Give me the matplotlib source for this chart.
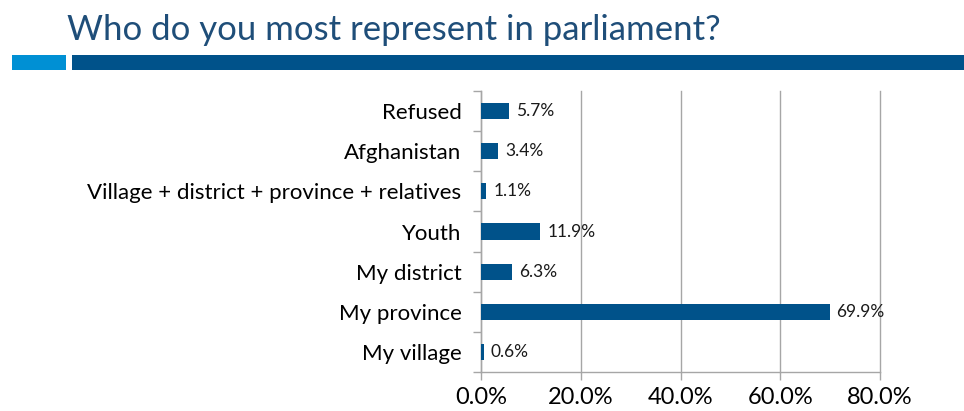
import matplotlib.pyplot as plt
from matplotlib.patches import Rectangle
import numpy as np

categories = ["My village", "My province", "My district", "Youth",
              "Village + district + province + relatives", "Afghanistan", "Refused"]
values = [0.6, 69.9, 6.3, 11.9, 1.1, 3.4, 5.7]
xticks = [0, 20, 40, 60, 80]

plt.rcParams['font.family'] = ['Lato', 'DejaVu Sans']

bar_color = "#00528A"
grid_color = "#A6A6A6"

fig = plt.figure(figsize=(9.64, 4.11), dpi=100)
ax = fig.add_axes([481 / 964, 1 - 372 / 411, 399 / 964, 281 / 411])

y = np.arange(len(categories))
ax.barh(y, values, height=0.4, color=bar_color, zorder=3)
for yi, v in zip(y, values):
    ax.text(v + 1.4, yi, f"{v:.1f}%", va="center", ha="left", fontsize=12.5, color="#1a1a1a")

ax.set_xlim(0, 80)
ax.set_ylim(-0.5, len(categories) - 0.5)
ax.set_xticks(xticks)
ax.set_xticklabels([f"{t:.1f}%" for t in xticks], fontsize=17)
ax.set_yticks(y)
ax.set_yticklabels(categories, fontsize=16)
ax.set_yticks(np.arange(-0.5, len(categories)), minor=True)
ax.tick_params(axis="y", which="major", length=0, pad=14)
ax.tick_params(axis="y", which="minor", length=6, color=grid_color, width=1)
ax.tick_params(axis="x", length=6, color=grid_color, width=1, pad=5)

ax.grid(axis="x", color=grid_color, linewidth=1, zorder=0)
for gl in ax.get_xgridlines():
    gl.set_clip_on(False)
for side in ["top", "right"]:
    ax.spines[side].set_visible(False)
for side in ["left", "bottom"]:
    ax.spines[side].set_color(grid_color)
    ax.spines[side].set_linewidth(1)

# header with title and banner strips
fig.text(67 / 964, 1 - 30 / 411, "Who do you most represent in parliament?",
         fontsize=25, color="#1F4E79", va="center", ha="left")
fig.add_artist(Rectangle((12 / 964, 1 - 70 / 411), 54 / 964, 15 / 411,
                         transform=fig.transFigure, color="#0090D4", lw=0))
fig.add_artist(Rectangle((72 / 964, 1 - 70 / 411), 892 / 964, 15 / 411,
                         transform=fig.transFigure, color="#00528A", lw=0))

fig.savefig("out.png", dpi=100)
